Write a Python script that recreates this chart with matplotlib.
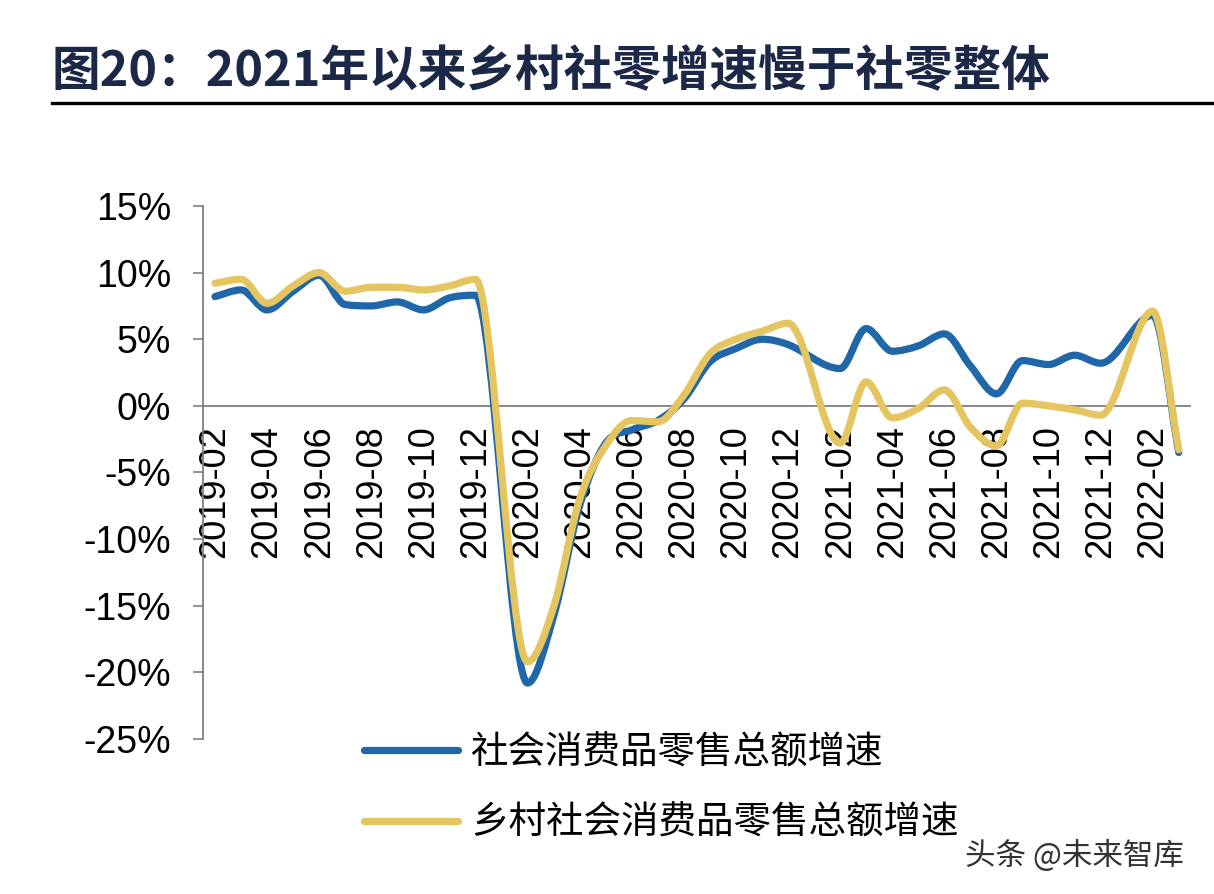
import numpy as np
import matplotlib
matplotlib.use('Agg')
import matplotlib.pyplot as plt
from matplotlib.path import Path
from matplotlib.patches import PathPatch
from matplotlib.lines import Line2D

plt.rcParams['font.family'] = ['Liberation Sans', 'Noto Sans CJK SC', 'DejaVu Sans']

months = ['2019-02', '2019-03', '2019-04', '2019-05', '2019-06', '2019-07', '2019-08',
          '2019-09', '2019-10', '2019-11', '2019-12', '2020-01', '2020-02', '2020-03',
          '2020-04', '2020-05', '2020-06', '2020-07', '2020-08', '2020-09', '2020-10',
          '2020-11', '2020-12', '2021-01', '2021-02', '2021-03', '2021-04', '2021-05',
          '2021-06', '2021-07', '2021-08', '2021-09', '2021-10', '2021-11', '2021-12',
          '2022-01', '2022-02', '2022-03']

# 1月无单独数据（1-2月合并），用 nan 占位
retail_all = [8.2, 8.7, 7.2, 8.6, 9.8, 7.6, 7.5, 7.8, 7.2, 8.1, 8.3, np.nan,
              -20.8, -15.8, -7.5, -2.8, -1.8, -1.1, 0.5, 3.3, 4.3, 5.0, 4.6, np.nan,
              2.8, 5.8, 4.1, 4.5, 5.4, 3.0, 0.9, 3.4, 3.1, 3.8, 3.2, np.nan,
              6.8, -3.5]
retail_rural = [9.2, 9.5, 7.7, 9.0, 10.0, 8.6, 8.9, 8.9, 8.7, 9.0, 9.5, np.nan,
                -19.2, -15.1, -7.0, -3.0, -1.1, -1.2, 0.8, 3.9, 5.0, 5.6, 6.2, np.nan,
                -2.8, 1.8, -0.9, -0.2, 1.2, -1.6, -3.0, 0.2, 0.0, -0.3, -0.7, np.nan,
                7.1, -3.3]

series_names = ['社会消费品零售总额增速', '乡村社会消费品零售总额增速']
series_colors = ['#1f67a8', '#e5c560']

yticks = [15, 10, 5, 0, -5, -10, -15, -20, -25]


def smoothPath(x, y):
    # 平滑线：三次贝塞尔，切线做 Fritsch-Carlson 限制，避免过冲
    ok = ~np.isnan(y)
    px, py = x[ok], y[ok]
    n = len(px)
    h = np.diff(px)
    d = np.diff(py) / h
    m = np.zeros(n)
    m[0], m[-1] = d[0], d[-1]
    for i in range(1, n - 1):
        if d[i - 1] * d[i] > 0:
            m[i] = (py[i + 1] - py[i - 1]) / (px[i + 1] - px[i - 1])
    for i in range(n - 1):
        if d[i] == 0:
            m[i] = m[i + 1] = 0
            continue
        a, b = m[i] / d[i], m[i + 1] / d[i]
        s = a * a + b * b
        if s > 9:
            t = 3 / np.sqrt(s)
            m[i], m[i + 1] = t * a * d[i], t * b * d[i]
    verts = [(px[0], py[0])]
    codes = [Path.MOVETO]
    for i in range(n - 1):
        verts += [(px[i] + h[i] / 3, py[i] + m[i] * h[i] / 3),
                  (px[i + 1] - h[i] / 3, py[i + 1] - m[i + 1] * h[i] / 3),
                  (px[i + 1], py[i + 1])]
        codes += [Path.CURVE4] * 3
    return Path(verts, codes)


fig = plt.figure(figsize=(12.14, 8.94), dpi=100)
ax = fig.add_axes([0.1672, 0.1734, 0.8130, 0.5962])

ax.spines['top'].set_visible(False)
ax.spines['right'].set_visible(False)
ax.spines['bottom'].set_position(('data', 0))
ax.spines['bottom'].set_color('#7f7f7f')
ax.spines['left'].set_color('#7f7f7f')
ax.spines['bottom'].set_linewidth(1.3)
ax.spines['left'].set_linewidth(1.3)

x = np.arange(len(months), dtype=float)
for vals, c in zip([retail_all, retail_rural], series_colors):
    path = smoothPath(x, np.array(vals, dtype=float))
    ax.add_patch(PathPatch(path, facecolor='none', edgecolor=c, lw=5.2,
                           capstyle='round', joinstyle='round', zorder=3))

ax.set_xlim(-0.46, 37.43)
ax.set_ylim(-25, 15)
ax.set_yticks(yticks)
ax.set_yticklabels(['%d%%' % v for v in yticks], fontsize=27)
ax.set_xticks(x[::2])
ax.set_xticklabels(months[::2], rotation=90, fontsize=26, va='top')
ax.tick_params(axis='x', length=0, pad=14)
ax.tick_params(axis='y', length=7, width=1.2, color='#7f7f7f', pad=16)

handles = [Line2D([0], [0], color=c, lw=5.2, solid_capstyle='round') for c in series_colors]
fig.legend(handles, series_names, loc='upper left', bbox_to_anchor=(0.300, 0.180),
           frameon=False, handlelength=2.5, handletextpad=0.35,
           labelspacing=0.85, borderpad=0, borderaxespad=0,
           prop={'family': ['Noto Sans CJK SC'], 'size': 27})

fig.text(0.0428, 0.920, '图20：2021年以来乡村社零增速慢于社零整体', fontsize=35,
         fontweight='bold', color='#1b2847', ha='left', va='center',
         family=['Noto Sans CJK SC'])
fig.add_artist(Line2D([0.0428, 1.0], [0.8848, 0.8848], color='black', lw=2.4))

fig.text(0.795, 0.043, '头条 @未来智库', fontsize=22, color='#333333',
         ha='left', va='center', family=['Noto Sans CJK SC'])

plt.savefig('out.png', dpi=100)
